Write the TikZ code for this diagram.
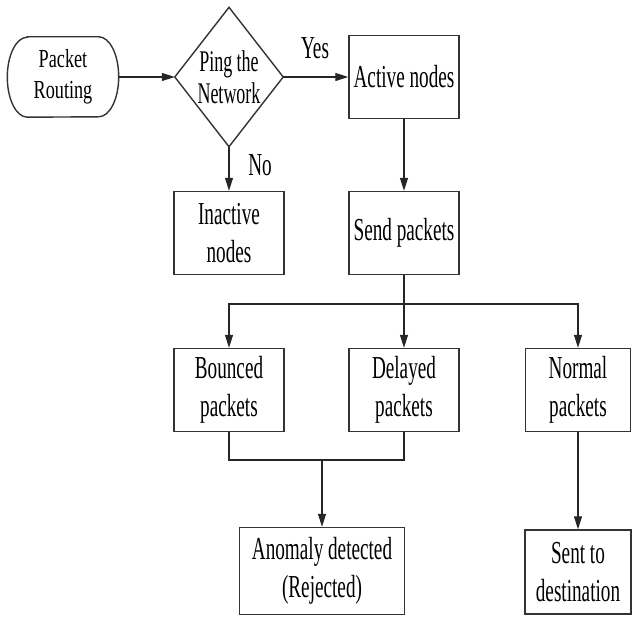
\documentclass[tikz,border=0pt]{standalone}
\usepackage{fontspec}
\usepackage{tikz}
\usetikzlibrary{arrows.meta}
\newfontfamily\condfont[FakeStretch=0.6]{Liberation Serif}
\newfontfamily\routefont[FakeStretch=0.7]{Liberation Serif}
\newcommand{\boxfont}{\condfont\fontsize{32}{38}\selectfont}

\begin{document}
\begin{tikzpicture}[x=1pt, y=1pt,
    box/.style={draw=black!80, line width=1.4pt, minimum width=110pt, minimum height=83pt,
                inner sep=0pt, align=center, font=\boxfont},
    link/.style={draw=black!85, line width=1.2pt},
    arr/.style={link, -{Triangle[length=13pt, width=8pt]}},
    lbl/.style={font=\boxfont}]
    \useasboundingbox (0,0) rectangle (632,616);

    % Start and decision
    \node[inner sep=0pt, minimum width=111pt, minimum height=80pt, align=center,
          font=\routefont\fontsize{26}{31}\selectfont] (route) at (63,539) {Packet\\Routing};
    \draw[draw=black!80, line width=1.4pt] ([xshift=20pt]route.north west) -- ([xshift=-20pt]route.north east)
        arc[start angle=90, end angle=-90, x radius=20pt, y radius=40pt]
        -- ([xshift=20pt]route.south west)
        arc[start angle=270, end angle=90, x radius=20pt, y radius=40pt] -- cycle;
    \node[inner sep=0pt, minimum width=108pt, minimum height=139pt, align=center,
          font=\condfont\fontsize{30}{32}\selectfont] (ping) at (229,539) {Ping the\\Network};
    \draw[draw=black!80, line width=1.4pt] (ping.north) -- (ping.east) -- (ping.south) -- (ping.west) -- cycle;

    % Boxes
    \node[box] (active) at (404,539) {Active nodes};
    \node[box] (send) at (404,383) {Send packets};
    \node[box] (inactive) at (229,383) {Inactive\\nodes};
    \node[box] (bounced) at (229,226) {Bounced\\packets};
    \node[box] (delayed) at (404,226) {Delayed\\packets};
    \node[box, minimum width=105pt] (normal) at (578,226) {Normal\\packets};
    \node[box, minimum width=165pt, minimum height=87pt] (anomaly) at (322,45) {Anomaly detected\\(Rejected)};
    \node[box, minimum width=106pt, minimum height=84pt] (sent) at (578,44) {Sent to\\destination};

    % Connectors
    \coordinate (split) at (404,312);
    \coordinate (merge) at (322,156);
    \draw[arr] (route) -- (ping);
    \draw[arr] (ping) -- (active);
    \draw[arr] (ping) -- (inactive);
    \draw[arr] (active) -- (send);
    \draw[link] (send) -- (split);
    \draw[arr] (split) -| (bounced);
    \draw[arr] (split) -- (delayed);
    \draw[arr] (split) -| (normal);
    \draw[link] (bounced) |- (merge) -| (delayed);
    \draw[arr] (merge) -- (anomaly);
    \draw[arr] (normal) -- (sent);

    \node[lbl] (yes) at (315,568) {Yes};
    \node[lbl] (no) at (260,451) {No};
\end{tikzpicture}
\end{document}
